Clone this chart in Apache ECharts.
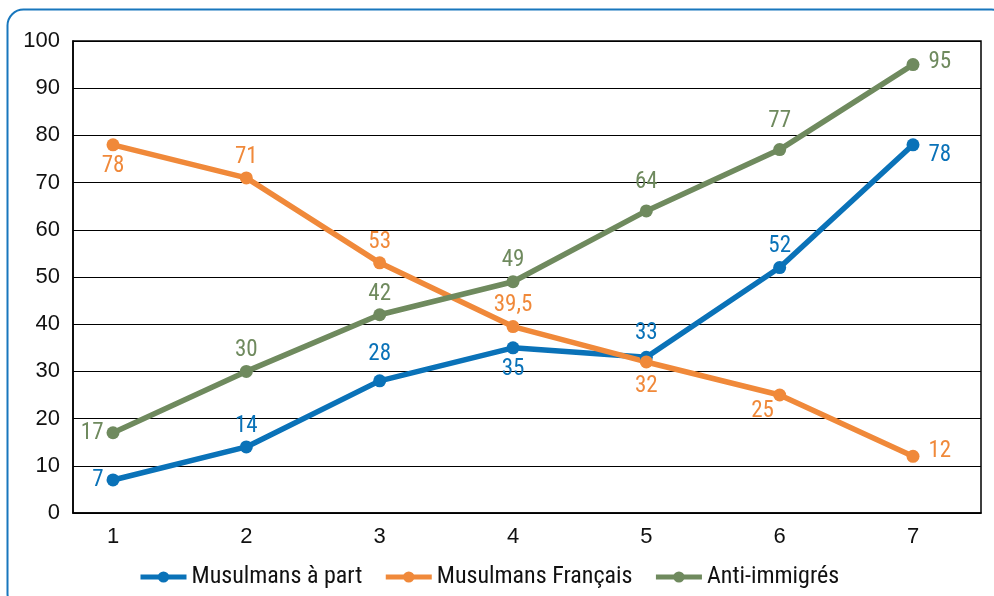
<!DOCTYPE html>
<html>
<head>
<meta charset="utf-8">
<script src="https://cdn.jsdelivr.net/npm/echarts@6/dist/echarts.min.js"></script>
<style>
  html, body { margin: 0; padding: 0; background: #fff; }
  #chart { width: 994px; height: 596px; }
</style>
</head>
<body>
<div id="chart"></div>
<script>
  var xValues = [1, 2, 3, 4, 5, 6, 7];
  var musulmansAPart = [7, 14, 28, 35, 33, 52, 78];
  var musulmansFrancais = [78, 71, 53, 39.5, 32, 25, 12];
  var antiImmigres = [17, 30, 42, 49, 64, 77, 95];
  var yTicks = [0, 10, 20, 30, 40, 50, 60, 70, 80, 90, 100];

  // label side for each point
  var posBlue = ['left', 'top', 'top', 'bottom', 'top', 'top', 'right'];
  var posOrange = ['bottom', 'top', 'top', 'top', 'bottom', [-22, 11], 'right'];
  var posGreen = ['left', 'top', 'top', 'top', 'top', 'top', 'right'];
  // small nudges so labels sit where the original put them
  var offBlue = [null, null, [0, -6], null, [0, -3], null, [6, 10]];
  var offOrange = [null, null, null, null, [0, 3], null, [6, -5]];
  var offGreen = [null, null, null, null, [0, -8], [0, -7], [6, -2]];

  var condensed = '"Roboto Condensed", "Liberation Sans Narrow", sans-serif';
  var plain = '"Liberation Sans", Arial, sans-serif';

  function build(values, positions, offsets) {
    return values.map(function (v, i) {
      var lab = { position: positions[i] };
      if (offsets[i]) lab.offset = offsets[i];
      return { value: [xValues[i], v], label: lab };
    });
  }

  function makeSeries(name, color, values, positions, offsets) {
    return {
      name: name,
      type: 'line',
      data: build(values, positions, offsets),
      symbol: 'circle',
      symbolSize: 13,
      lineStyle: { color: color, width: 5.5 },
      itemStyle: { color: color },
      label: {
        show: true,
        color: color,
        fontFamily: condensed,
        fontSize: 23,
        distance: 3,
        formatter: function (p) {
          return String(p.value[1]).replace('.', ',');
        }
      },
      emphasis: { disabled: true }
    };
  }

  var myChart = echarts.init(document.getElementById('chart'));
  myChart.setOption({
    animation: false,
    backgroundColor: '#ffffff',
    graphic: [{
      type: 'rect',
      shape: { x: 7.5, y: 9.5, width: 1000, height: 600, r: 16 },
      style: { fill: 'none', stroke: '#1877bd', lineWidth: 2 },
      z: -1
    }],
    grid: {
      left: 73, right: 13, top: 41, bottom: 83,
      show: true, borderColor: '#000', borderWidth: 1.5
    },
    legend: {
      bottom: 2,
      left: 133,
      itemWidth: 46,
      itemHeight: 14,
      itemGap: 21,
      lineStyle: { width: 5 },
      textStyle: { fontFamily: condensed, fontSize: 24, color: '#111' },
      data: ['Musulmans à part', 'Musulmans Français', 'Anti-immigrés']
    },
    xAxis: {
      type: 'value',
      min: 0.7,
      max: 7.51,
      axisLine: { show: true, onZero: false, lineStyle: { color: '#000', width: 1.5 } },
      axisTick: { show: false },
      splitLine: { show: false },
      axisLabel: {
        customValues: xValues,
        color: '#111',
        fontFamily: plain,
        fontSize: 22,
        margin: 13
      }
    },
    yAxis: {
      type: 'value',
      min: 0,
      max: 100,
      interval: 10,
      axisLine: { show: true, lineStyle: { color: '#000', width: 1.5 } },
      axisTick: { show: false },
      splitLine: { lineStyle: { color: '#000', width: 1.2 } },
      axisLabel: {
        customValues: yTicks,
        color: '#111',
        fontFamily: plain,
        fontSize: 22,
        margin: 13
      }
    },
    series: [
      makeSeries('Musulmans à part', '#0a72b8', musulmansAPart, posBlue, offBlue),
      makeSeries('Musulmans Français', '#f0893a', musulmansFrancais, posOrange, offOrange),
      makeSeries('Anti-immigrés', '#6f8a5e', antiImmigres, posGreen, offGreen)
    ]
  });
</script>
</body>
</html>
